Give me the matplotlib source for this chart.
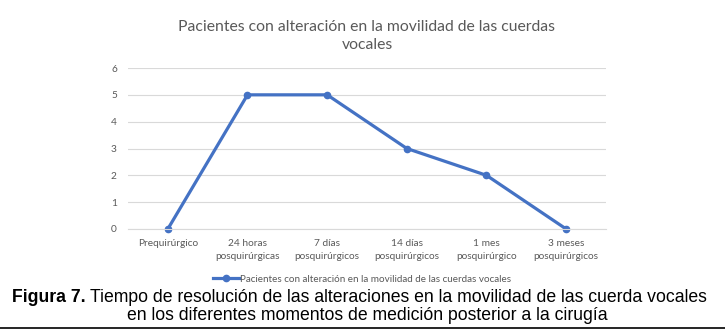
import matplotlib.pyplot as plt
import numpy as np

categorias = ['Prequirúrgico', '24 horas\nposquirúrgicas', '7 días\nposquirúrgicos',
              '14 días\nposquirúrgicos', '1 mes\nposquirúrgico', '3 meses\nposquirúrgicos']
pacientes = [0, 5, 5, 3, 2, 0]
yticks = [0, 1, 2, 3, 4, 5, 6]

titulo = 'Pacientes con alteración en la movilidad de las cuerdas\nvocales'
serie = 'Pacientes con alteración en la movilidad de las cuerdas vocales'

fig = plt.figure(figsize=(7.25, 3.36), dpi=100)
ax = fig.add_axes([128/725, 1-229/336, 478/725, 161/336])

x = np.arange(len(categorias))
ax.plot(x, pacientes, color='#4472C4', lw=2.3, marker='o', ms=4.5, label=serie, clip_on=False)
ax.set_xlim(-0.5, len(categorias)-0.5)
ax.set_ylim(0, 6)
ax.set_yticks(yticks)
ax.set_xticks(x)
ax.set_xticklabels(categorias, fontsize=7.3, color='#595959', family='Lato', linespacing=1.55)
ax.set_yticklabels([str(v) for v in yticks], fontsize=7.3, color='#595959', family='Lato')
ax.tick_params(length=0, pad=8)
ax.tick_params(axis='x', pad=7)
ax.grid(axis='y', color='#D9D9D9', lw=0.8)
ax.set_axisbelow(True)
for s in ['top', 'right', 'left']:
    ax.spines[s].set_visible(False)
ax.spines['bottom'].set_color('#D9D9D9')

fig.text(367/725, 1-36/336, titulo, ha='center', va='center', fontsize=11.3,
         color='#595959', family='Lato', linespacing=1.4)

leg = fig.legend(loc='center', bbox_to_anchor=(362/725, 1-279/336), frameon=False,
                 prop={'family': 'Lato', 'size': 7.1}, handlelength=2.6, handletextpad=0.1,
                 borderpad=0, borderaxespad=0)
for t in leg.get_texts():
    t.set_color('#595959')

cap1 = fig.text(12/725, 1-298/336, 'Figura 7.', ha='left', va='center', fontsize=12.7,
                fontweight='bold', family='Liberation Sans')
fig.canvas.draw()
bb = cap1.get_window_extent()
fig.text((bb.x1 + 4)/725, 1-298/336,
         'Tiempo de resolución de las alteraciones en la movilidad de las cuerda vocales',
         ha='left', va='center', fontsize=12.7, family='Liberation Sans')
fig.text(367/725, 1-316/336, 'en los diferentes momentos de medición posterior a la cirugía',
         ha='center', va='center', fontsize=12.7, family='Liberation Sans')

fig.add_artist(plt.Line2D([0, 1], [1-327.5/336, 1-327.5/336], color='black', lw=1.2,
                          transform=fig.transFigure))

fig.savefig('out.png', dpi=100)
